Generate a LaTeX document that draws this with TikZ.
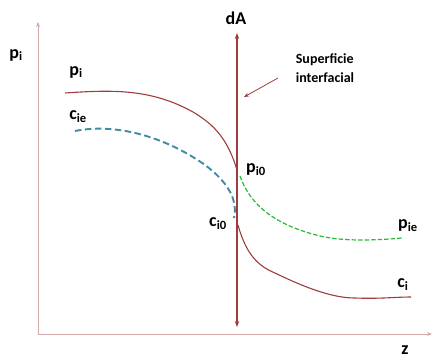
\documentclass[tikz,border=0pt]{standalone}
\usepackage{fontspec}
\setmainfont{Carlito}
\usetikzlibrary{arrows.meta}
\definecolor{axiscol}{RGB}{212,170,170}
\definecolor{darkred}{RGB}{160,60,60}
\definecolor{tealc}{RGB}{62,140,160}
\definecolor{greenc}{RGB}{40,185,60}
\begin{document}
\begin{tikzpicture}[x=1pt,y=-1pt,
  axis/.style={draw=axiscol,line width=1pt,-{Stealth[length=5pt,width=4pt]}},
  curve/.style={draw=darkred,line width=1.1pt},
  lbl/.style={font=\bfseries\fontsize{18}{20}\selectfont,inner sep=0pt},
  slbl/.style={font=\bfseries\fontsize{14}{19}\selectfont,align=left,inner sep=0pt}]
\useasboundingbox (0,0) rectangle (435,358);
% axes
\coordinate (o) at (38,334);
\coordinate (ytop) at (38,22);
\coordinate (xend) at (432,334);
\draw[axis] (o) -- (ytop);
\draw[axis] (o) -- (xend);
\node[lbl] (ylab) at (16,55) {p\textsubscript{i}};
\node[lbl] (zlab) at (405,350) {z};
% interface line
\coordinate (dAtop) at (237,33);
\coordinate (dAbot) at (237,327);
\draw[draw=darkred,line width=1.3pt,{Stealth[length=6pt,width=4.5pt]}-{Stealth[length=6pt,width=4.5pt]}] (dAtop) -- (dAbot);
\node[lbl] (dA) at (236,18) {dA};
\node[slbl] (sup) at (325,68) {Superficie\\interfacial};
\coordinate (sarr) at (278,78);
\coordinate (sarrend) at (244,97);
\draw[draw=darkred,line width=0.8pt,-{Stealth[length=5pt,width=4pt]}] (sarr) -- (sarrend);
% p_i curve
\draw[curve] (65,93) .. controls (110,90) and (150,88) .. (193,112)
  .. controls (215,125) and (228,140) .. (237,170);
\node[lbl] (pi) at (76,72) {p\textsubscript{i}};
% c_ie dashed
\draw[draw=tealc,line width=1.9pt,dash pattern=on 6.5pt off 3.5pt] (75,131) .. controls (120,122) and (170,140) .. (205,165)
  .. controls (228,182) and (238,200) .. (234,218);
\node[lbl] (cie) at (78,117) {c\textsubscript{ie}};
% p_i0 label and green dashed
\node[lbl] (pi0) at (256,170) {p\textsubscript{i0}};
\draw[draw=greenc,line width=1.2pt,dash pattern=on 4.5pt off 2pt] (240,176) .. controls (250,205) and (275,225) .. (320,236)
  .. controls (345,242) and (380,240) .. (402,238);
\node[lbl] (pie) at (408,226) {p\textsubscript{ie}};
% c_i0 and c_i
\node[lbl] (ci0) at (218,224) {c\textsubscript{i0}};
\draw[curve] (238,225) .. controls (245,250) and (255,265) .. (275,273)
  .. controls (310,290) and (335,298) .. (355,298)
  .. controls (380,299) and (395,297) .. (411,297);
\node[lbl] (ci) at (403,285) {c\textsubscript{i}};
\end{tikzpicture}
\end{document}
